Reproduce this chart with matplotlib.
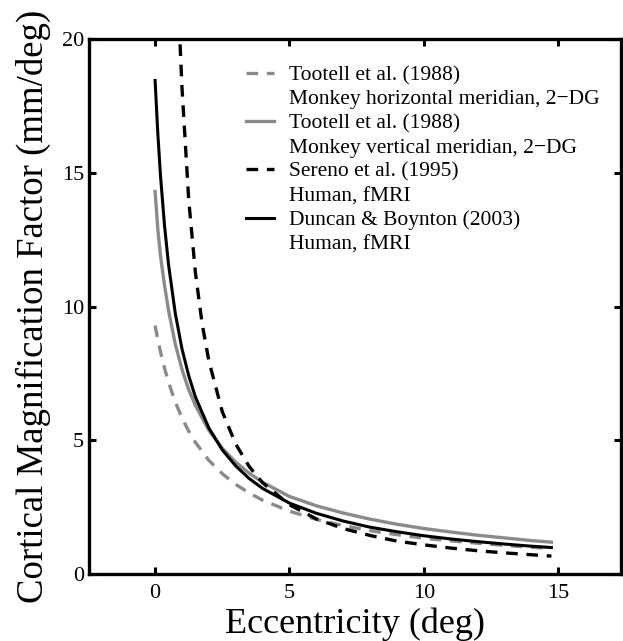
import matplotlib
matplotlib.use('Agg')
from matplotlib import pyplot as plt
from matplotlib.lines import Line2D

plt.rcParams['font.family'] = ['Liberation Serif', 'DejaVu Serif']

# eccentricity (deg) sample points
ecc = [0, 0.1, 0.2, 0.35, 0.5, 0.75, 1, 1.25, 1.5, 2, 2.5, 3, 3.5, 4,
       5, 6, 7, 8, 9, 10, 11, 12, 13, 14, 14.75]
# Tootell et al. (1988), horizontal meridian (grey dashed)
tootell_h = [9.29, 8.77, 8.31, 7.70, 7.17, 6.43, 5.84, 5.34, 4.92, 4.25, 3.75, 3.35, 3.03, 2.76,
             2.35, 2.04, 1.81, 1.62, 1.47, 1.34, 1.24, 1.15, 1.07, 1.00, 0.95]
# Tootell et al. (1988), vertical meridian (grey solid)
tootell_v = [14.3, 12.9, 11.9, 10.8, 9.85, 8.6, 7.65, 6.9, 6.3, 5.37, 4.7, 4.18, 3.77, 3.43,
             2.9, 2.55, 2.28, 2.05, 1.86, 1.70, 1.57, 1.45, 1.35, 1.25, 1.19]
# Duncan & Boynton (2003) (black solid)
duncan = [18.45, 16.49, 14.90, 13.03, 11.57, 9.75, 8.42, 7.42, 6.62, 5.46, 4.64, 4.04, 3.57, 3.20,
          2.65, 2.27, 1.98, 1.75, 1.58, 1.43, 1.31, 1.21, 1.12, 1.04, 0.99]
# Sereno et al. (1995) (black dashed) - runs off the top near 1 deg
ecc_sereno = [0.93, 1, 1.25, 1.5, 1.75, 2, 2.5, 3, 3.5, 4,
              5, 6, 7, 8, 9, 10, 11, 12, 13, 14, 14.75]
sereno = [19.80, 18.20, 14.00, 11.27, 9.36, 7.97, 6.07, 4.86, 4.02, 3.41,
          2.59, 2.06, 1.70, 1.44, 1.23, 1.09, 0.97, 0.87, 0.79, 0.72, 0.67]

labels = ['Tootell et al. (1988)', 'Monkey horizontal meridian, 2\u2212DG',
          'Tootell et al. (1988)', 'Monkey vertical meridian, 2\u2212DG',
          'Sereno et al. (1995)', 'Human, fMRI',
          'Duncan & Boynton (2003)', 'Human, fMRI']

grey = '#8a8a8a'
fig = plt.figure(figsize=(6.23, 6.41), dpi=100)
ax = fig.add_axes([89 / 623, 67 / 641, 532 / 623, 535 / 641])

l1, = ax.plot(ecc, tootell_h, color=grey, lw=2.4, dashes=(3.5, 2.6))
l2, = ax.plot(ecc, tootell_v, color=grey, lw=2.4)
l3, = ax.plot(ecc_sereno, sereno, color='black', lw=2.4, dashes=(3.5, 2.6))
l4, = ax.plot(ecc, duncan, color='black', lw=2.2)

ax.set_xlim(-2.46, 17.34)
ax.set_ylim(0, 20)
ax.set_xticks([0, 5, 10, 15])
ax.set_yticks([0, 5, 10, 15, 20])
ax.tick_params(direction='in', length=5, width=2.2, labelsize=16, top=True, right=True)
ax.tick_params(axis='x', pad=7)
ax.tick_params(axis='y', pad=3.6)
for s in ax.spines.values():
    s.set_linewidth(2.4)

ax.set_xlabel('Eccentricity (deg)', fontsize=26, labelpad=3.5)
ax.set_ylabel('Cortical Magnification Factor (mm/deg)', fontsize=26.5, labelpad=8)

blank = Line2D([], [], linestyle='none')
handles = [l1, blank, l2, blank, l3, blank, l4, blank]
ax.legend(handles, labels, loc='upper left', bbox_to_anchor=(0.295, 0.951),
          frameon=False, fontsize=15.5, handlelength=1.3, handletextpad=0.7,
          labelspacing=0.19, borderpad=0, borderaxespad=0)

fig.savefig('out.png', dpi=100)
